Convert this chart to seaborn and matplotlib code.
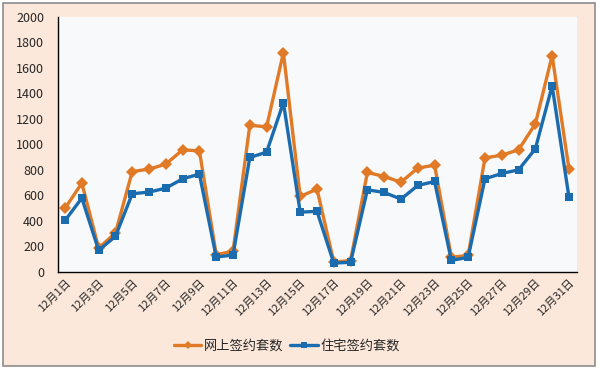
import seaborn as sns
import matplotlib.pyplot as plt
import pandas as pd
from matplotlib.patches import Rectangle

# 数据
days = list(range(1, 32))
day_labels = [f"12月{d}日" for d in days]
online = [500, 696, 188, 305, 787, 806, 845, 957, 949, 136, 162, 1150, 1137, 1718,
          592, 649, 78, 89, 780, 748, 704, 814, 837, 115, 130, 894, 915, 957, 1160, 1695, 808]
housing = [404, 579, 170, 279, 613, 626, 657, 730, 767, 117, 133, 897, 939, 1327,
           469, 475, 70, 76, 644, 623, 571, 678, 709, 91, 115, 730, 772, 800, 965, 1458, 587]
series_names = ["网上签约套数", "住宅签约套数"]

df = pd.DataFrame({"day": days * 2,
                   "value": online + housing,
                   "series": [series_names[0]] * 31 + [series_names[1]] * 31})

sns.set_style("white")
plt.rcParams['font.family'] = ['Noto Sans CJK SC', 'DejaVu Sans']

fig = plt.figure(figsize=(6, 3.69), dpi=100)
fig.patch.set_facecolor("white")
# 外框背景
fig.patches.append(Rectangle((3 / 600, 3 / 369), 592 / 600, 363 / 369, transform=fig.transFigure,
                             facecolor="#FCE8DA", edgecolor="#8C8C8C", linewidth=1.2, zorder=-10))

ax = fig.add_axes([58 / 600, 1 - 272 / 369, 519 / 600, (272 - 16.7) / 369])
ax.set_facecolor("#F8F9FA")

sns.lineplot(data=df, x="day", y="value", hue="series", style="series",
             palette=["#E07A27", "#1A6CAF"], markers=["D", "s"], dashes=False,
             linewidth=2.4, markersize=6, markeredgewidth=0, ax=ax)

ax.set_xlim(0.58, 31.48)
ax.set_ylim(0, 2000)
ax.set_yticks(range(0, 2001, 200))
ax.set_xticks(days[::2])
ax.set_xticklabels(day_labels[::2], rotation=45, ha="right", rotation_mode="anchor", fontsize=8)
ax.tick_params(axis="y", labelsize=9, length=0, pad=10)
ax.tick_params(axis="x", length=0, pad=4)
ax.set_xlabel("")
ax.set_ylabel("")
for s in ["top", "right"]:
    ax.spines[s].set_visible(False)
for s in ["left", "bottom"]:
    ax.spines[s].set_color("black")
    ax.spines[s].set_linewidth(1)

handles, labels = ax.get_legend_handles_labels()
ax.legend(handles, labels, loc="center", bbox_to_anchor=(0.441, -0.29),
          ncol=2, frameon=False, fontsize=9.5, handlelength=2.1, columnspacing=0.5,
          handletextpad=0.2, markerscale=0.75)

fig.savefig("out.png", dpi=100, facecolor=fig.get_facecolor())
